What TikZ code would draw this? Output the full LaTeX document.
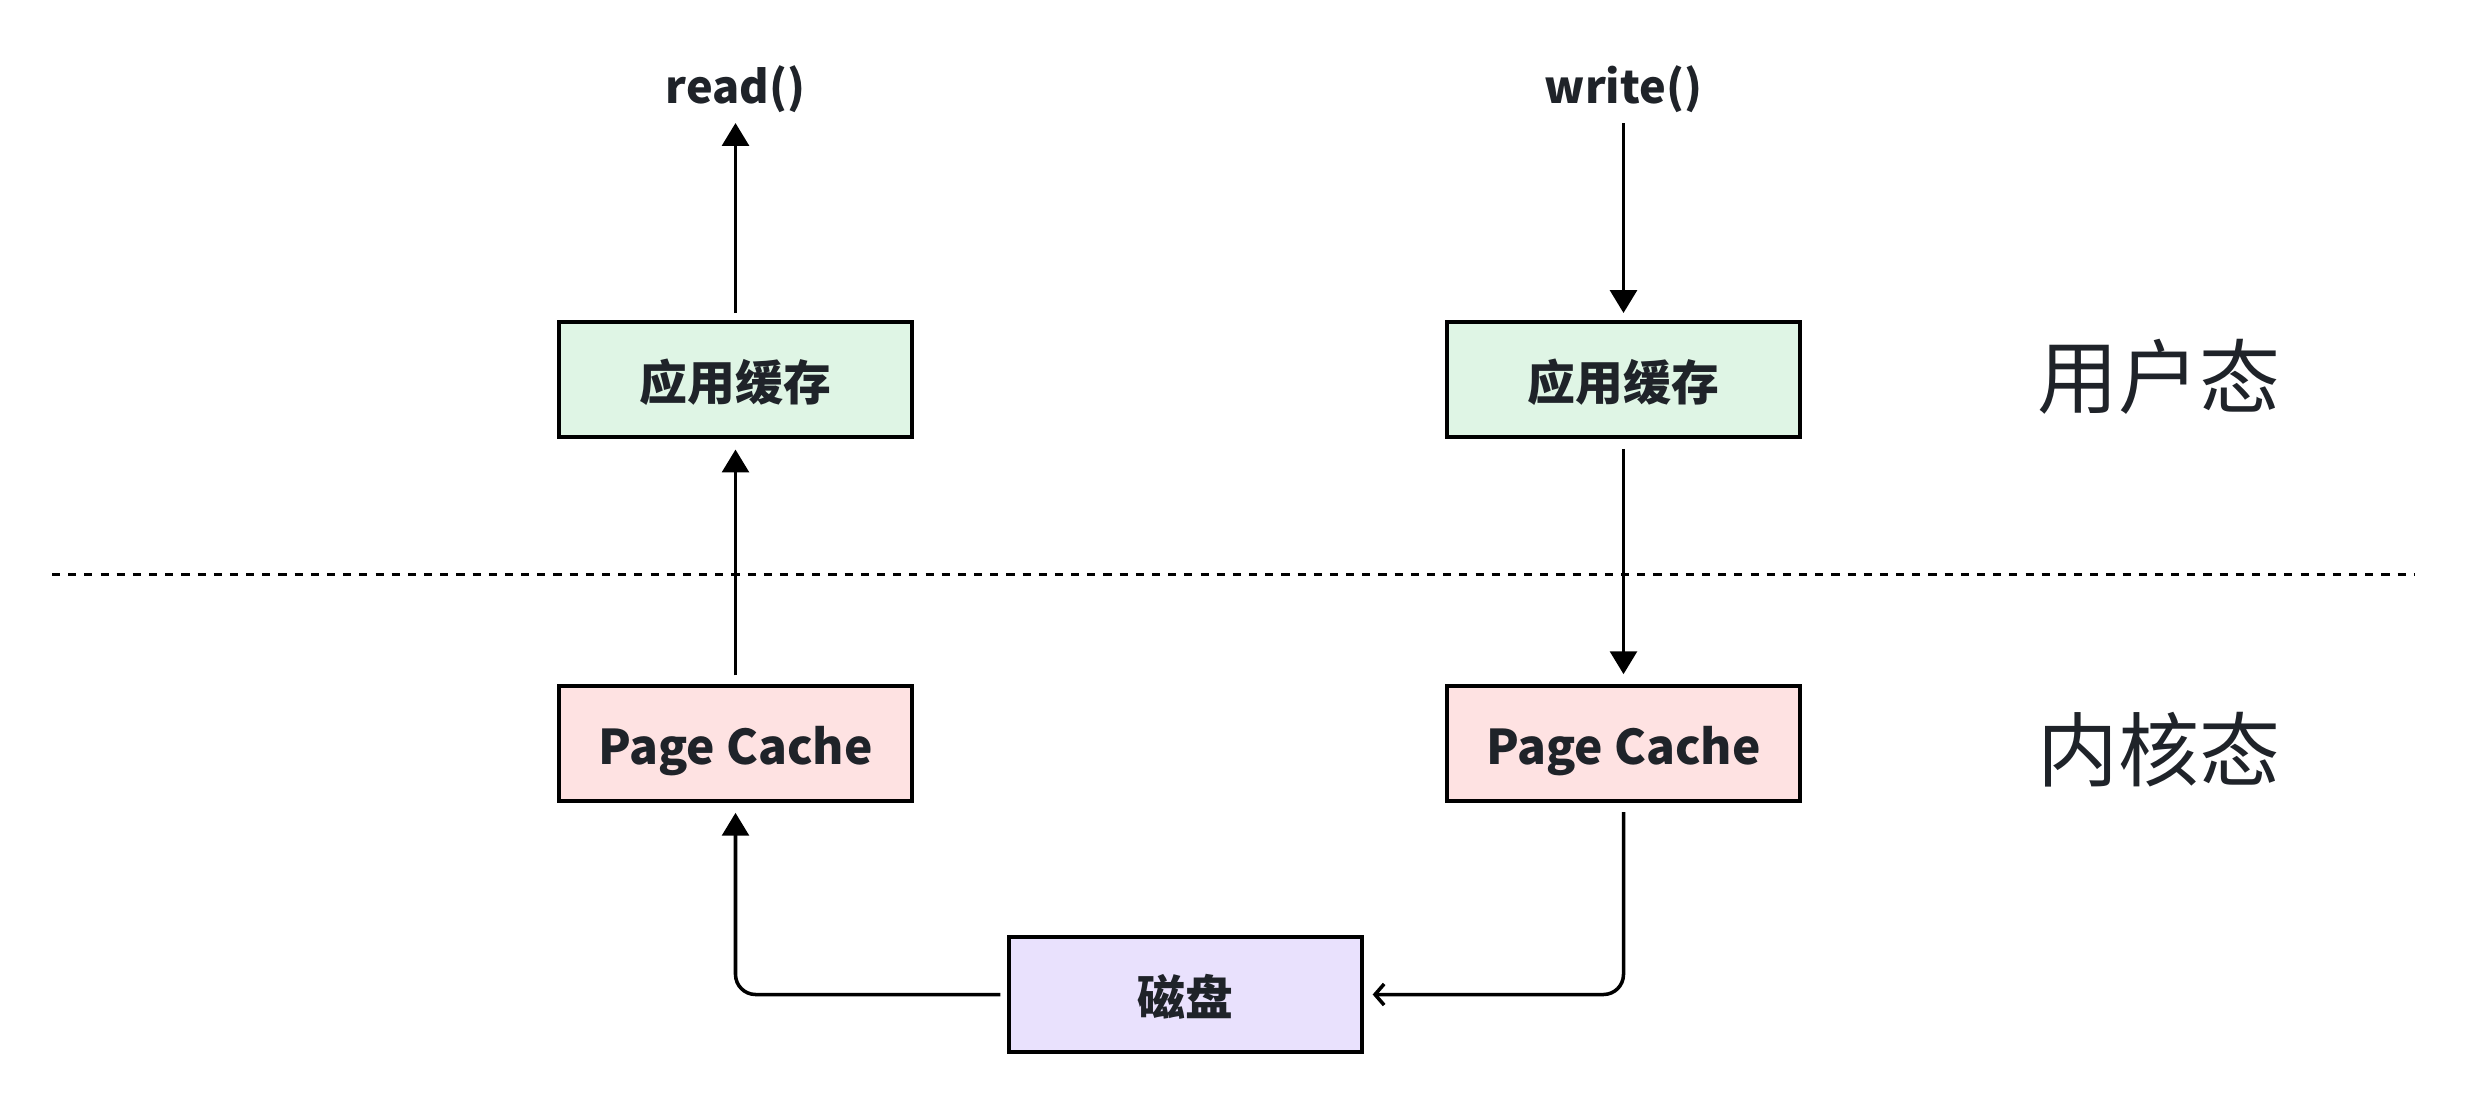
\documentclass[tikz,border=0pt]{standalone}
\usepackage{fontspec}
\setmainfont{Noto Sans CJK SC}
\usetikzlibrary{arrows.meta,calc}
\definecolor{txt}{HTML}{1F2329}
\definecolor{gfill}{HTML}{DFF5E5}
\definecolor{pfill}{HTML}{FEE2E2}
\definecolor{vfill}{HTML}{E9E1FD}
\begin{document}
\begin{tikzpicture}[x=0.01cm,y=-0.01cm,
  box/.style={draw=black,line width=1.1pt,minimum width=3.52cm,minimum height=1.15cm,inner sep=0pt,
    font=\bfseries\fontsize{13.6}{15}\selectfont,text=txt,text height=1.18em,text depth=0em},
  lbl/.style={font=\bfseries\fontsize{12.8}{14}\selectfont,text=txt,inner sep=0pt,anchor=base},
  side/.style={font=\fontsize{23}{26}\selectfont,text=txt,inner sep=0pt},
  conn/.style={line width=1pt,draw=black},
  arr/.style={conn,-{Triangle[length=6.5pt,width=7.6pt]}},
  barb/.style={conn,-{Straight Barb[length=2.6pt,width=6pt]}}]
\useasboundingbox (0,0) rectangle (2466,1102);
% nodes
\node[box,fill=gfill] (ua) at (735.5,379.5) {应用缓存};
\node[box,fill=gfill] (ub) at (1623.5,379.5) {应用缓存};
\node[box,fill=pfill] (pa) at (735.5,743.5) {Page Cache};
\node[box,fill=pfill] (pb) at (1623.5,743.5) {Page Cache};
\node[box,fill=vfill] (dk) at (1185.5,994.5) {磁盘};
\node[lbl] (rd) at (735.5,103) {read()};
\node[lbl] (wr) at (1623.5,103) {write()};
\node[side] (us) at (2159,377) {用户态};
\node[side] (ks) at (2159,750) {内核态};
% dashed separator
\coordinate (dl) at (52,574);
\coordinate (dr) at (2414,574);
\draw[line width=0.85pt,dash pattern=on 2.3pt off 2.3pt] (dl) -- (dr);
% connectors
\draw[arr,shorten <=2pt] (ua.north) -- ($(rd.base)+(0,20)$);
\draw[arr,shorten <=2.5pt,shorten >=3pt] (pa.north) -- (ua.south);
\draw[arr,shorten >=2pt] ($(wr.base)+(0,20)$) -- (ub.north);
\draw[arr,shorten <=2.8pt,shorten >=2.8pt] (ub.south) -- (pb.north);
\draw[arr,rounded corners=5.7pt,shorten <=2pt,shorten >=2.8pt] (dk.west) -- (pa.south |- dk.west) -- (pa.south);
\draw[barb,rounded corners=5.7pt,shorten <=2.6pt,shorten >=2.6pt] (pb.south) -- (pb.south |- dk.east) -- (dk.east);
\end{tikzpicture}
\end{document}
